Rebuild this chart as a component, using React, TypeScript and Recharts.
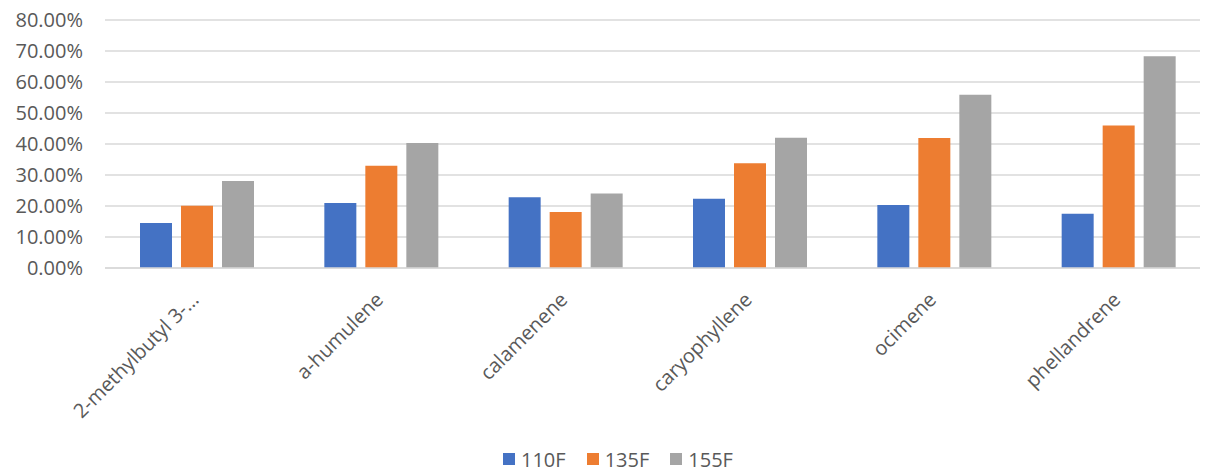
import React from 'react';
import { BarChart, Bar, XAxis, YAxis, CartesianGrid, Legend } from 'recharts';

// terpene compounds on the x axis
const compounds = ['2-methylbutyl 3-…', 'a-humulene', 'calamenene', 'caryophyllene', 'ocimene', 'phellandrene'];

// percent values per temperature
const f110 = [14.5, 21.0, 22.8, 22.3, 20.3, 17.5];
const f135 = [20.1, 33.0, 18.1, 33.8, 41.9, 46.0];
const f155 = [28.1, 40.3, 24.0, 42.0, 55.9, 68.3];

const yTicks = [0, 10, 20, 30, 40, 50, 60, 70, 80];

const seriesList = [
  { key: 'f110', name: '110F', color: '#4472C4' },
  { key: 'f135', name: '135F', color: '#ED7D31' },
  { key: 'f155', name: '155F', color: '#A5A5A5' },
];

const data = compounds.map((name, i) => ({
  name,
  f110: f110[i],
  f135: f135[i],
  f155: f155[i],
}));

const FONT = '"Open Sans", sans-serif';
const TEXT = '#595959';

const AngledTick = ({ x, y, payload }: any) => (
  <g transform={`translate(${x - 2},${y + 28})`}>
    <text textAnchor="end" transform="rotate(-45)" dy="0.35em" fill={TEXT} fontSize={20} fontFamily={FONT}>
      {payload.value}
    </text>
  </g>
);

const LegendBox = () => (
  <div style={{ display: 'flex', alignItems: 'center', height: 24, fontFamily: FONT, fontSize: 20, color: TEXT }}>
    {seriesList.map((s) => (
      <div key={s.key} style={{ display: 'flex', alignItems: 'center', marginRight: 21 }}>
        <span style={{ display: 'inline-block', width: 12, height: 12, background: s.color, marginRight: 6 }} />
        <span>{s.name}</span>
      </div>
    ))}
  </div>
);

export default function App() {
  return (
    <div style={{ marginTop: -8, marginLeft: -8, background: '#fff' }}>
      <BarChart
        width={1208}
        height={472}
        data={data}
        margin={{ top: 20, right: -3, bottom: 0, left: 0 }}
        barSize={32}
        barGap={9}
      >
        <CartesianGrid vertical={false} stroke="#D9D9D9" strokeWidth={1.5} />
        <XAxis
          dataKey="name"
          interval={0}
          height={180}
          tickLine={false}
          tickSize={0}
          tickMargin={0}
          axisLine={{ stroke: '#D9D9D9', strokeWidth: 1.5 }}
          tick={<AngledTick />}
        />
        <YAxis
          width={105}
          domain={[0, 80]}
          ticks={yTicks}
          interval={0}
          axisLine={false}
          tickLine={false}
          tickSize={0}
          tickMargin={22}
          tickFormatter={(v: number) => `${v.toFixed(2)}%`}
          tick={{ fill: TEXT, fontSize: 20, fontFamily: FONT }}
        />
        <Legend
          verticalAlign="bottom"
          content={<LegendBox />}
          wrapperStyle={{ left: 503, top: 447, width: 'auto', bottom: 'auto' }}
        />
        {seriesList.map((s) => (
          <Bar key={s.key} dataKey={s.key} name={s.name} fill={s.color} isAnimationActive={false} />
        ))}
      </BarChart>
    </div>
  );
}
